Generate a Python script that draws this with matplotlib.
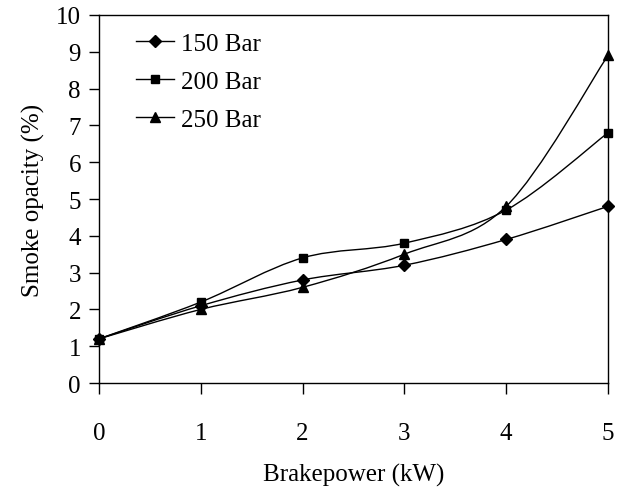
import matplotlib.pyplot as plt
from matplotlib.path import Path
from matplotlib.patches import PathPatch
from matplotlib.lines import Line2D

plt.rcParams['font.family'] = ['Liberation Serif', 'DejaVu Serif']

# data
power = [0, 1, 2, 3, 4, 5]
bar150 = [1.2, 2.1, 2.8, 3.2, 3.9, 4.8]
bar200 = [1.2, 2.2, 3.4, 3.8, 4.7, 6.8]
bar250 = [1.2, 2.0, 2.6, 3.5, 4.8, 8.9]
labels = ['150 Bar', '200 Bar', '250 Bar']
markers = ['D', 's', '^']
msizes = [6, 6, 7]


def smooth_path(x, y, t=1 / 6.0):
    # Excel-like smoothed line: cubic Bezier through the points
    pts = list(zip(x, y))
    verts = [pts[0]]
    codes = [Path.MOVETO]
    n = len(pts)
    for i in range(n - 1):
        p0 = pts[i - 1] if i > 0 else pts[i]
        p1 = pts[i]
        p2 = pts[i + 1]
        p3 = pts[i + 2] if i + 2 < n else pts[i + 1]
        c1 = (p1[0] + (p2[0] - p0[0]) * t, p1[1] + (p2[1] - p0[1]) * t)
        c2 = (p2[0] - (p3[0] - p1[0]) * t, p2[1] - (p3[1] - p1[1]) * t)
        verts += [c1, c2, p2]
        codes += [Path.CURVE4] * 3
    return Path(verts, codes)


fs = 18

fig = plt.figure(figsize=(6.21, 4.89), dpi=100)
ax = fig.add_axes([0.1594, 0.2147, 0.8196, 0.7526])

handles = []
for ys, lab, m, ms in zip([bar150, bar200, bar250], labels, markers, msizes):
    ax.add_patch(PathPatch(smooth_path(power, ys), fill=False, edgecolor='black',
                           lw=1.0, clip_on=False))
    ax.plot(power, ys, linestyle='none', marker=m, color='black', markersize=ms,
            clip_on=False, zorder=3)
    handles.append(Line2D([], [], color='black', lw=1.0, marker=m, markersize=ms))

ax.set_xlim(0, 5)
ax.set_ylim(0, 10)
ax.set_xticks(power)
ax.set_yticks(range(0, 11))
ax.tick_params(axis='both', direction='out', labelsize=fs, color='black', width=1.0)
ax.tick_params(axis='y', length=7, pad=6)
ax.tick_params(axis='x', length=8, pad=20)
for s in ax.spines.values():
    s.set_linewidth(1.0)

ax.set_ylabel('Smoke opacity (%)', fontsize=fs, labelpad=8)
ax.set_xlabel('Brakepower (kW)', fontsize=fs, labelpad=14)

ax.legend(handles, labels, loc='upper left', frameon=False, fontsize=fs,
          handlelength=1.5, handletextpad=0.3, labelspacing=0.62,
          bbox_to_anchor=(0.029, 1.013))

fig.savefig('out.png', dpi=100)
